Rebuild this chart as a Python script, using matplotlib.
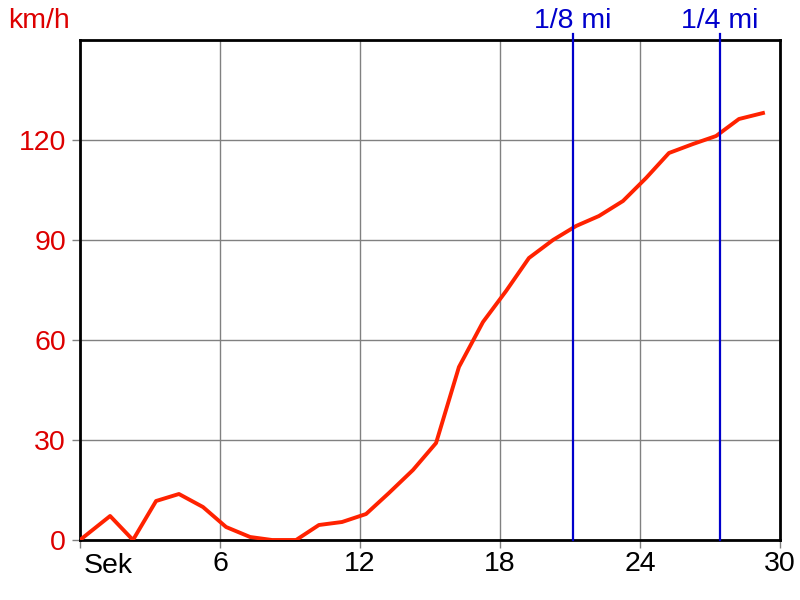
import matplotlib
matplotlib.use("Agg")
import matplotlib.pyplot as plt

# speed samples (seconds, km/h)
t = [0.0, 1.29, 2.27, 3.26, 4.24, 5.27, 6.26, 7.29, 8.23, 9.26, 10.24, 11.23,
     12.26, 13.24, 14.27, 15.26, 16.24, 17.27, 18.26, 19.24, 20.27, 21.26,
     22.24, 23.27, 24.26, 25.24, 26.27, 27.26, 28.24, 29.27]
speed = [0.0, 7.2, 0.0, 11.7, 13.8, 9.9, 3.9, 0.9, 0.0, 0.0, 4.5, 5.4,
         7.8, 14.1, 21.0, 29.1, 51.9, 65.4, 74.7, 84.6, 90.0, 94.2,
         97.2, 101.7, 108.6, 116.1, 118.8, 121.2, 126.3, 128.1]

marks = [21.13, 27.43]
mark_labels = ["1/8 mi", "1/4 mi"]

xticks = [0, 6, 12, 18, 24, 30]
yticks = [0, 30, 60, 90, 120]

plt.rcParams["font.family"] = ["Liberation Sans", "DejaVu Sans"]
fs = 20.5

fig = plt.figure(figsize=(8, 6), dpi=100)
ax = fig.add_axes([0.1, 0.1, 0.875, 0.8333])
ax.set_xlim(0, 30)
ax.set_ylim(0, 150)

ax.grid(True, color="#808080", linewidth=1)
ax.set_axisbelow(True)

ax.plot(t, speed, color="#ff2200", linewidth=2.8, zorder=3, solid_joinstyle="round")

for m, lab in zip(marks, mark_labels):
    ax.plot([m, m], [0, 151.8], color="#0000cc", linewidth=1.6, clip_on=False, zorder=4)
    ax.text(m, 153.6, lab, color="#0000cc", fontsize=fs, ha="center", va="baseline")

ax.set_xticks(xticks)
ax.set_xticklabels([""] + [str(v) for v in xticks[1:]])
ax.set_yticks(yticks)
ax.set_yticklabels([str(v) for v in yticks], color="#dd0000")
ax.tick_params(axis="both", length=6, width=1, color="#808080", labelsize=fs)
ax.tick_params(axis="x", pad=2)
ax.tick_params(axis="y", pad=4)

ax.text(0.15, -4, "Sek", fontsize=fs, ha="left", va="top")
fig.text(0.01, 0.953, "km/h", color="#dd0000", fontsize=fs, ha="left", va="baseline")

for s in ax.spines.values():
    s.set_linewidth(2)
    s.set_color("black")

fig.savefig("out.png", dpi=100)
